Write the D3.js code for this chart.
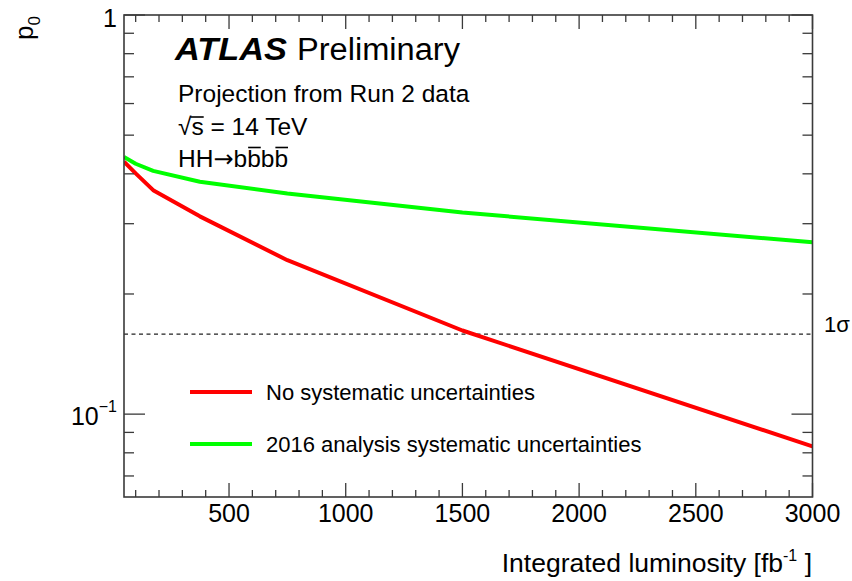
<!DOCTYPE html>
<html>
<head>
<meta charset="utf-8">
<script src="https://cdn.jsdelivr.net/npm/d3@7"></script>
<style>
  html, body { margin: 0; padding: 0; background: #fff; }
  svg { display: block; font-family: "Liberation Sans", Arial, Helvetica, sans-serif; }
</style>
</head>
<body>
<svg id="chart" width="852" height="581"></svg>
<script>
// Integrated luminosity points (fb^-1)
const lumi = [50, 100, 175, 375, 750, 1500, 3000];
// Expected p0 without systematic uncertainties
const p0NoSyst = [0.429, 0.401, 0.364, 0.313, 0.243, 0.162, 0.083];
// Expected p0 with 2016 analysis systematic uncertainties
const p0Syst2016 = [0.441, 0.424, 0.407, 0.382, 0.357, 0.320, 0.2695];

const seriesNames = ["No systematic uncertainties", "2016 analysis systematic uncertainties"];
const seriesColors = ["#ff0000", "#00ff00"];
const xTickValues = [500, 1000, 1500, 2000, 2500, 3000];
const oneSigmaP0 = 0.1587;

const svg = d3.select("#chart");
const frameL = 124, frameR = 812.5, frameT = 15, frameB = 497;

const x = d3.scaleLinear().domain([50, 3000]).range([frameL, frameR]);
const y = d3.scaleLog().domain([0.062, 1]).range([frameB, frameT]);

const axisColor = "#3a3a3a";

// Data curves (clipped to frame)
svg.append("clipPath").attr("id", "frame")
  .append("rect").attr("x", frameL).attr("y", frameT)
  .attr("width", frameR - frameL).attr("height", frameB - frameT);

const line = d3.line().x(d => x(d[0])).y(d => y(d[1]));

// 1 sigma reference line
svg.append("line")
  .attr("x1", frameL).attr("x2", frameR)
  .attr("y1", y(oneSigmaP0)).attr("y2", y(oneSigmaP0))
  .attr("stroke", "#222").attr("stroke-width", 1.1)
  .attr("stroke-dasharray", "4,3.5");

const series = [p0NoSyst, p0Syst2016];
series.forEach((vals, i) => {
  svg.append("path")
    .attr("clip-path", "url(#frame)")
    .attr("d", line(lumi.map((l, j) => [l, vals[j]])))
    .attr("fill", "none")
    .attr("stroke", seriesColors[i])
    .attr("stroke-width", 4)
    .attr("stroke-linejoin", "round");
});

// Axes: ticks on all four sides
const xMinor = d3.range(100, 3001, 100).filter(v => v % 500 !== 0);
const yMinor = [0.07, 0.08, 0.09, 0.2, 0.3, 0.4, 0.5, 0.6, 0.7, 0.8, 0.9];
const yMajor = [0.1, 1];

function ticks(values, len, side) {
  values.forEach(v => {
    let l;
    if (side === "bottom") l = [x(v), frameB, x(v), frameB - len];
    if (side === "top") l = [x(v), frameT, x(v), frameT + len];
    if (side === "left") l = [frameL, y(v), frameL + len, y(v)];
    if (side === "right") l = [frameR, y(v), frameR - len, y(v)];
    svg.append("line")
      .attr("x1", l[0]).attr("y1", l[1]).attr("x2", l[2]).attr("y2", l[3])
      .attr("stroke", axisColor).attr("stroke-width", 1.3);
  });
}
ticks(xTickValues, 14, "bottom");
ticks(xMinor, 7, "bottom");
ticks(xTickValues, 14, "top");
ticks(xMinor, 7, "top");
ticks(yMajor, 21, "left");
ticks(yMinor, 10, "left");
ticks(yMajor, 21, "right");
ticks(yMinor, 10, "right");

svg.append("rect")
  .attr("x", frameL).attr("y", frameT)
  .attr("width", frameR - frameL).attr("height", frameB - frameT)
  .attr("fill", "none").attr("stroke", axisColor).attr("stroke-width", 1.6);

// x tick labels
svg.selectAll(".xlab").data(xTickValues).enter().append("text")
  .attr("x", d => x(d)).attr("y", frameB + 25)
  .attr("text-anchor", "middle").attr("font-size", 25)
  .text(d => d);

// y tick labels
svg.append("text").attr("x", 117).attr("y", 27)
  .attr("text-anchor", "end").attr("font-size", 25).text("1");
const ylab = svg.append("text").attr("x", 117).attr("y", y(0.1) + 11)
  .attr("text-anchor", "end").attr("font-size", 25);
ylab.append("tspan").text("10");
ylab.append("tspan").attr("dy", -13).attr("font-size", 16).text("\u22121");

// Axis titles
const xt = svg.append("text").attr("x", 812).attr("y", 572)
  .attr("text-anchor", "end").attr("font-size", 26.5);
xt.append("tspan").text("Integrated luminosity [fb");
xt.append("tspan").attr("dy", -11).attr("font-size", 16).text("-1");
xt.append("tspan").attr("dy", 11).text(" ]");

const yt = svg.append("text")
  .attr("transform", "translate(33,16) rotate(-90)")
  .attr("text-anchor", "end").attr("font-size", 26);
yt.append("tspan").text("p");
yt.append("tspan").attr("dy", 7).attr("font-size", 17).text("0");

// 1 sigma label
svg.append("text").attr("x", 824).attr("y", 332)
  .attr("font-size", 22).text("1\u03c3");

// ATLAS label
svg.append("text").attr("x", 175).attr("y", 60).attr("font-size", 31)
  .attr("font-weight", "bold").attr("font-style", "italic")
  .attr("textLength", 112).attr("lengthAdjust", "spacingAndGlyphs")
  .text("ATLAS");
svg.append("text").attr("x", 297).attr("y", 60).attr("font-size", 31)
  .attr("textLength", 163).attr("lengthAdjust", "spacingAndGlyphs")
  .text("Preliminary");

svg.append("text").attr("x", 178).attr("y", 102).attr("font-size", 24.5)
  .text("Projection from Run 2 data");

const sq = svg.append("text").attr("x", 178).attr("y", 135).attr("font-size", 24.5)
  .text("\u221As = 14 TeV");
const hh = svg.append("text").attr("x", 178).attr("y", 167).attr("font-size", 24.5);
hh.append("tspan").text("HH");
hh.append("tspan").attr("font-family", "DejaVu Sans").attr("font-size", 24).text("\u2192");
hh.append("tspan").text("bbbb");

// Overbars drawn above selected characters
function overbar(textSel, idx, yOff, x0pad) {
  const node = textSel.node();
  idx.forEach(i => {
    const e = node.getExtentOfChar(i);
    svg.append("line")
      .attr("x1", e.x + (x0pad || 0)).attr("x2", e.x + e.width)
      .attr("y1", e.y + yOff).attr("y2", e.y + yOff)
      .attr("stroke", "#000").attr("stroke-width", 1.6);
  });
}
overbar(sq, [1], 4, -1);
overbar(hh, [4, 6], 2.5, 1);

// Legend
const legY = [392, 444];
seriesNames.forEach((name, i) => {
  svg.append("line")
    .attr("x1", 190).attr("x2", 252)
    .attr("y1", legY[i]).attr("y2", legY[i])
    .attr("stroke", seriesColors[i]).attr("stroke-width", 4);
  svg.append("text").attr("x", 266).attr("y", legY[i] + 8)
    .attr("font-size", 22).text(name);
});
</script>
</body>
</html>
